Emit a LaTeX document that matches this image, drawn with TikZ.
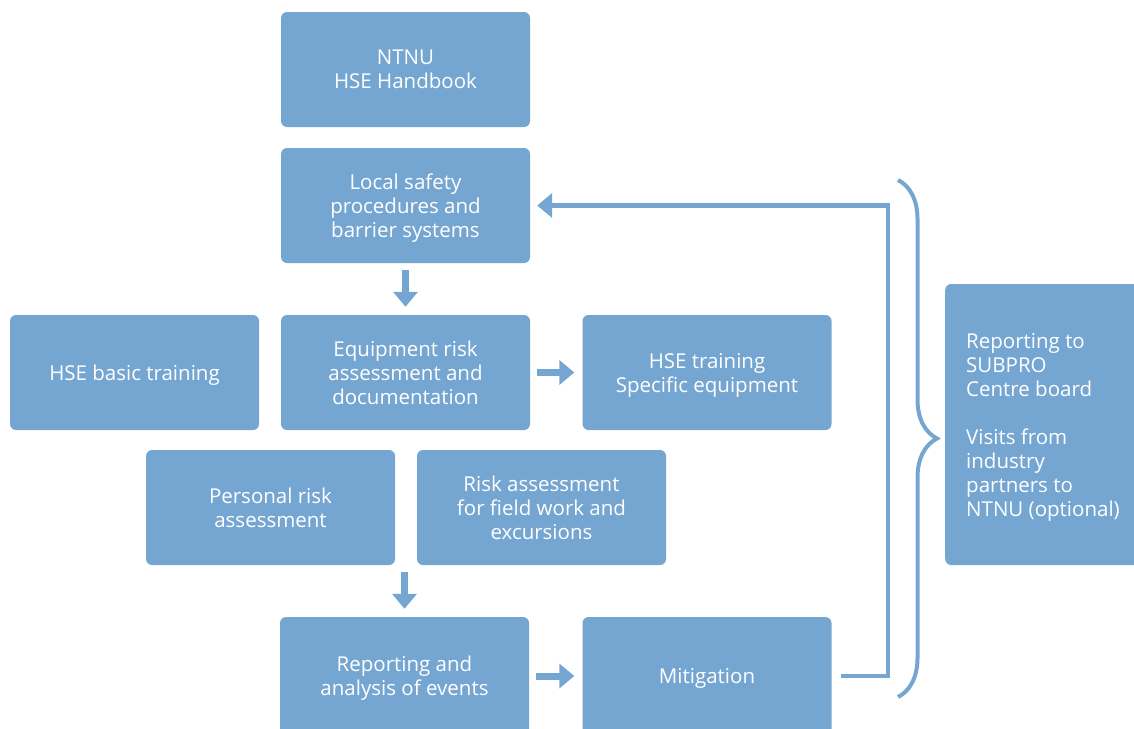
\documentclass[tikz,border=0pt]{standalone}
\usepackage{fontspec}
\setmainfont{Open Sans}
\usepackage{tikz}
\usetikzlibrary{arrows.meta, positioning, calc, decorations.pathreplacing}
\definecolor{hseblue}{HTML}{75A6D1}

\tikzset{
  hsebox/.style={rectangle, rounded corners=6pt, fill=hseblue, text=white,
                 minimum width=249pt, minimum height=115pt, align=center,
                 inner sep=4pt, text depth=-2pt, font=\fontsize{20.5}{24}\selectfont},
  flow/.style={draw=hseblue, line width=7pt, -{Triangle[length=15pt,width=24pt]},
               shorten <=7pt, shorten >=8pt},
  feedback/.style={draw=hseblue, line width=4.5pt, -{Triangle[length=15pt,width=24pt]},
                   shorten <=9pt, shorten >=7pt},
}

\begin{document}
\begin{tikzpicture}[x=1pt, y=-1pt]
\useasboundingbox (0,0) rectangle (1134,728);
% Main column
\node[hsebox] (ntnu) at (405.5,69.5) {NTNU\\HSE Handbook};
\node[hsebox] (local) at (405.5,205.5) {Local safety\\procedures and\\barrier systems};
\node[hsebox] (basic) at (134.5,372.5) {HSE basic training};
\node[hsebox] (equip) at (405.5,372.5) {Equipment risk\\assessment and\\documentation};
\node[hsebox] (specific) at (707,372.5) {HSE training\\Specific equipment};
\node[hsebox] (personal) at (270.5,507.5) {Personal risk\\assessment};
\node[hsebox] (field) at (541.5,507.5) {Risk assessment\\for field work and\\excursions};
\node[hsebox, minimum height=118pt] (report) at (404.5,676) {Reporting and\\analysis of events};
\node[hsebox, minimum height=118pt] (mitig) at (707,676) {Mitigation};
% Board box (runs off the right edge)
\node[hsebox, anchor=west, align=left, inner xsep=21pt,
      minimum height=281pt, minimum width=0pt] (board) at (945,424.5)
  {Reporting to\\SUBPRO\\Centre board\\[24pt]Visits from\\industry\\partners to\\NTNU (optional)};
% Arrows
\coordinate (gap) at ($(personal.south)!0.5!(field.south)$);
\draw[flow] (local.south) -- (equip.north);
\draw[flow] (equip.east) -- (specific.west);
\draw[flow] (report.north |- gap) -- (report.north);
\draw[flow] (report.east) -- (mitig.west);
% Feedback loop
\coordinate (turn) at (888,676);
\draw[feedback] (mitig.east) -- (turn) |- (local.east);
% Brace
\draw[draw=hseblue, line width=4pt, decorate,
      decoration={brace, amplitude=39pt}] (898,180) -- (898,697);
\end{tikzpicture}
\end{document}
